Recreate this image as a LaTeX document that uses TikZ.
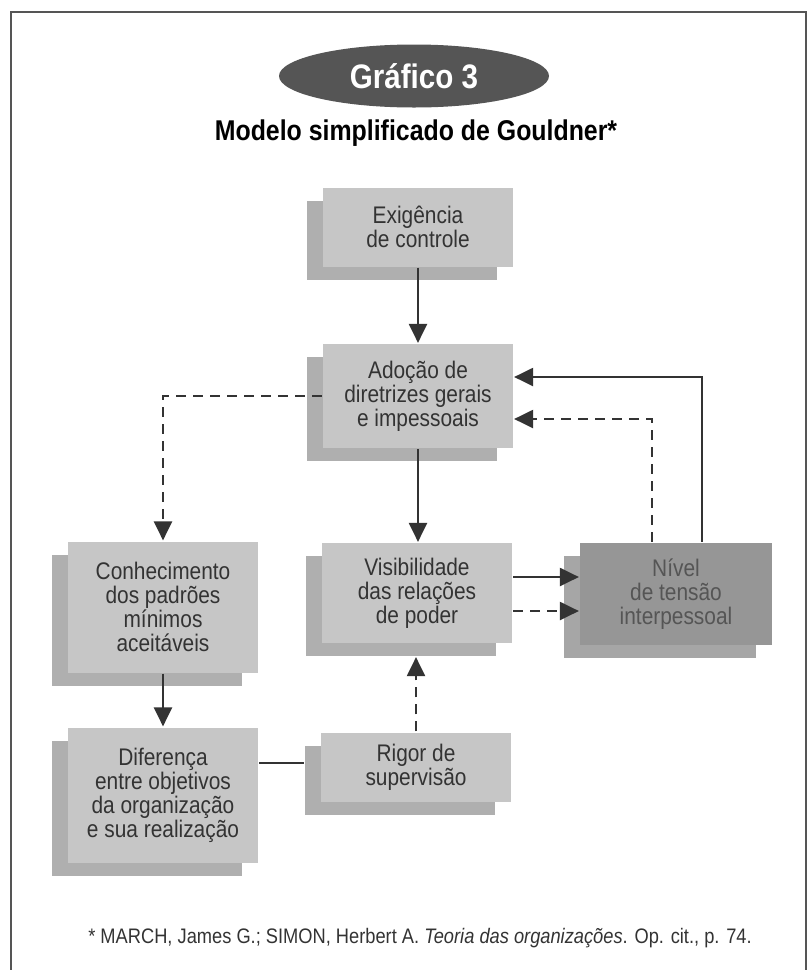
\documentclass[tikz,border=0pt]{standalone}
\usepackage{fontspec}
\setmainfont[FakeStretch=0.87]{Liberation Sans}
\usetikzlibrary{positioning,shapes.geometric,shadows,arrows.meta}
\definecolor{boxgray}{HTML}{C6C6C6}
\definecolor{shadegray}{HTML}{AFAFAF}
\definecolor{darkbox}{HTML}{969696}
\definecolor{darkshade}{HTML}{A6A6A6}
\definecolor{inkgray}{HTML}{333333}
\definecolor{fadeink}{HTML}{555555}
\definecolor{ovalgray}{HTML}{555555}
\tikzset{%
  every block/.style={
    rectangle,
    align=center,
    inner sep=0pt,
    minimum width=95pt,
    text=inkgray,
    font=\fontsize{12}{12}\selectfont
  },
  block light/.style={
    fill=boxgray,
    drop shadow={shadow xshift=-8pt, shadow yshift=-6.5pt, fill=shadegray, opacity=1}
  },
  block dark/.style={
    fill=darkbox,
    text=fadeink,
    drop shadow={shadow xshift=-8pt, shadow yshift=-6.5pt, fill=darkshade, opacity=1}
  },
  dashline/.style={dash pattern=on 5pt off 3.5pt},
}

\begin{document}
\begin{tikzpicture}[x=0.5pt, y=-0.5pt, >={Triangle[length=9.5pt,width=9pt]},
    line width=1.1pt, draw=inkgray]
        \useasboundingbox (0,0) rectangle (808,970);

        %%%%%%%%%%%%%%%%%%%%%%%%%%%%%%%%%%%%%%%%%%%%
        % Frame and headings
        %%%%%%%%%%%%%%%%%%%%%%%%%%%%%%%%%%%%%%%%%%%%
        \draw [draw=ovalgray] (11,970) -- (11,12) -- (806,12) -- (806,970);

        \node [ellipse, fill=ovalgray, text=white, minimum width=135pt,
            minimum height=31.5pt, inner sep=0pt,
            font=\fontsize{17}{17}\selectfont\bfseries] (grafico) at (414,76) {Gráfico 3};

        \node [anchor=base, font=\fontsize{14.3}{15}\selectfont\bfseries]
            (titulo) at (416,140) {Modelo simplificado de Gouldner*};

        %%%%%%%%%%%%%%%%%%%%%%%%%%%%%%%%%%%%%%%%%%%%
        % Blocks
        %%%%%%%%%%%%%%%%%%%%%%%%%%%%%%%%%%%%%%%%%%%%
        \node [every block, block light, minimum height=39.5pt] (exig) at (418,227)
            {Exigência\\de controle};
        \node [every block, block light, minimum height=52pt] (adocao) at (418,396)
            {Adoção de\\diretrizes gerais\\e impessoais};
        \node [every block, block light, minimum height=50pt] (visib) at (417,593)
            {Visibilidade\\das relações\\de poder};
        \node [every block, block dark, minimum width=96pt, minimum height=51pt] (tensao) at (676,594)
            {Nível\\de tensão\\interpessoal};
        \node [every block, block light, minimum height=65.5pt] (conhec) at (163,607)
            {Conhecimento\\dos padrões\\mínimos\\aceitáveis};
        \node [every block, block light, minimum height=67.5pt] (difer) at (163,795)
            {Diferença\\entre objetivos\\da organização\\e sua realização};
        \node [every block, block light, minimum height=34.5pt] (rigor) at (416,767)
            {Rigor de\\supervisão};

        %%%%%%%%%%%%%%%%%%%%%%%%%%%%%%%%%%%%%%%%%%%%
        % Connecting
        %%%%%%%%%%%%%%%%%%%%%%%%%%%%%%%%%%%%%%%%%%%%
        \draw [->] (exig.south) -- (adocao.north);
        \draw [->] (adocao.south) -- (adocao.south |- visib.north);
        \draw [->, dashline] (adocao.west) -| (conhec.north);
        \draw [->] (conhec.south) -- (difer.north);

        % Tension feeds back
        \draw [->] ([xshift=13pt]tensao.north) |- ([yshift=9.5pt]adocao.east);
        \draw [->, dashline] ([xshift=-12pt]tensao.north) |- ([yshift=-11.5pt]adocao.east);

        \foreach \s/\d in {8pt/solid, -9pt/dashline}
            \draw [->, \d] ([yshift=\s]visib.east) -- ([yshift=\s]visib.east -| tensao.west);

        \draw [->, dashline] (rigor.north) -- ([yshift=-6.5pt]rigor.north |- visib.south);
        \draw ([yshift=2pt]rigor.west -| difer.east) -- ([xshift=-8pt,yshift=2pt]rigor.west);

        %%%%%%%%%%%%%%%%%%%%%%%%%%%%%%%%%%%%%%%%%%%%
        % Source
        %%%%%%%%%%%%%%%%%%%%%%%%%%%%%%%%%%%%%%%%%%%%
        \node [font=\fontsize{10.5}{11}\selectfont, text=inkgray] (fonte) at (420,938)
            {* MARCH, James G.; SIMON, Herbert A. \textit{Teoria das organizações}. Op. cit., p. 74.};
\end{tikzpicture}
\end{document}
